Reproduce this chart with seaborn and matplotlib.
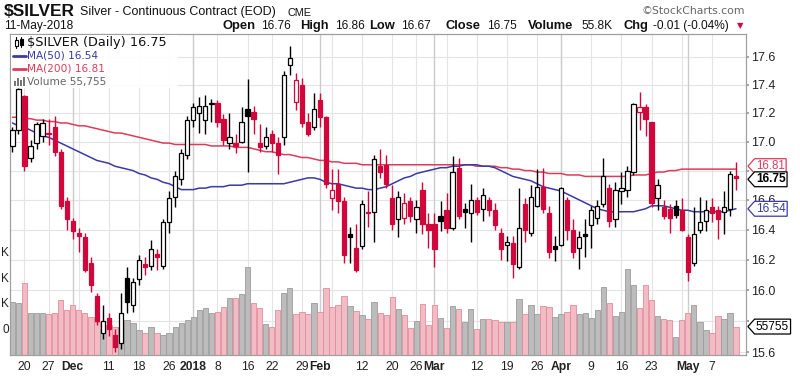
import numpy as np
import pandas as pd
import matplotlib
matplotlib.use("Agg")
import matplotlib.pyplot as plt
import matplotlib.transforms as mtransforms
from matplotlib.patches import Rectangle
from matplotlib.path import Path
from matplotlib.ticker import NullLocator, NullFormatter
import seaborn as sns

# trading calendar shown on the chart
first_day = "2017-11-16"
last_day = "2018-05-11"
holidays = ["2017-11-23", "2017-12-25", "2018-01-01", "2018-01-15", "2018-02-19", "2018-03-30"]

opens = [16.97, 17.08, 17.32, 16.89, 16.99, 17.04, 17.06, 17.10, 16.93, 16.59,
         16.46, 16.38, 16.35, 16.18, 15.96, 15.72, 15.82, 15.71, 15.66, 16.08,
         15.90, 16.07, 16.17, 16.16, 16.24, 16.16, 16.45, 16.62, 16.74, 16.91,
         17.15, 17.20, 17.15, 17.26, 17.27, 17.16, 16.99, 16.99, 17.00, 17.23,
         17.21, 16.99, 16.97, 17.05, 16.99, 17.03, 17.54, 17.28, 17.40, 17.14,
         17.10, 17.29, 17.17, 16.61, 16.71, 16.59, 16.37, 16.28, 16.29, 16.51,
         16.52, 16.83, 16.84, 16.61, 16.47, 16.48, 16.59, 16.47, 16.67, 16.44,
         16.44, 16.49, 16.53, 16.41, 16.82, 16.54, 16.51, 16.60, 16.54, 16.60,
         16.53, 16.38, 16.30, 16.31, 16.15, 16.57, 16.38, 16.56, 16.69, 16.51,
         16.29, 16.30, 16.60, 16.40, 16.28, 16.37, 16.43, 16.48, 16.57, 16.68,
         16.47, 16.66, 16.67, 16.79, 17.21, 17.24, 17.14, 16.61, 16.55, 16.54,
         16.56, 16.53, 16.35, 16.18, 16.40, 16.46, 16.55, 16.53, 16.52, 16.54,
         16.76]
highs = [17.10, 17.38, 17.33, 17.01, 17.14, 17.16, 17.16, 17.18, 16.95, 16.62,
         16.48, 16.41, 16.38, 16.22, 15.98, 15.90, 15.85, 15.75, 15.98, 16.15,
         16.08, 16.23, 16.22, 16.33, 16.27, 16.47, 16.66, 16.80, 16.95, 17.18,
         17.27, 17.31, 17.33, 17.30, 17.29, 17.19, 17.20, 17.05, 17.24, 17.44,
         17.25, 17.12, 17.10, 17.08, 17.03, 17.50, 17.68, 17.48, 17.45, 17.20,
         17.34, 17.34, 17.18, 16.81, 16.81, 16.62, 16.42, 16.44, 16.60, 16.66,
         16.91, 16.95, 16.91, 16.70, 16.66, 16.65, 16.62, 16.60, 16.72, 16.51,
         16.51, 16.59, 16.65, 16.90, 16.89, 16.58, 16.71, 16.62, 16.68, 16.62,
         16.58, 16.41, 16.36, 16.36, 16.68, 16.61, 16.70, 16.81, 16.82, 16.56,
         16.36, 16.69, 16.62, 16.47, 16.39, 16.47, 16.56, 16.60, 16.89, 16.71,
         16.72, 16.79, 16.83, 17.27, 17.35, 17.26, 17.14, 16.74, 16.60, 16.57,
         16.60, 16.61, 16.37, 16.55, 16.62, 16.60, 16.61, 16.56, 16.66, 16.80,
         16.86]
lows = [16.93, 17.05, 16.80, 16.86, 16.95, 17.00, 16.98, 16.90, 16.54, 16.40,
        16.34, 16.25, 16.12, 15.99, 15.77, 15.68, 15.70, 15.60, 15.62, 15.85,
        15.86, 16.03, 16.10, 16.13, 16.13, 16.14, 16.38, 16.55, 16.70, 16.88,
        17.10, 17.06, 17.05, 17.14, 17.10, 16.98, 16.95, 16.92, 16.99, 16.79,
        17.05, 16.93, 16.95, 16.93, 16.78, 16.98, 17.47, 17.22, 17.10, 17.04,
        17.08, 17.10, 16.68, 16.53, 16.51, 16.18, 16.18, 16.12, 16.27, 16.42,
        16.32, 16.75, 16.68, 16.40, 16.35, 16.44, 16.45, 16.38, 16.37, 16.28,
        16.15, 16.39, 16.38, 16.40, 16.47, 16.41, 16.32, 16.50, 16.46, 16.49,
        16.40, 16.20, 16.19, 16.08, 16.14, 16.32, 16.36, 16.55, 16.51, 16.21,
        16.19, 16.29, 16.33, 16.21, 16.14, 16.22, 16.28, 16.44, 16.55, 16.42,
        16.42, 16.57, 16.62, 16.77, 17.08, 17.04, 16.55, 16.53, 16.47, 16.38,
        16.48, 16.39, 16.06, 16.16, 16.38, 16.39, 16.45, 16.34, 16.37, 16.49,
        16.67]
closes = [17.08, 17.37, 16.83, 16.97, 17.12, 17.13, 17.05, 16.93, 16.56, 16.47,
          16.39, 16.36, 16.13, 16.03, 15.80, 15.80, 15.75, 15.63, 15.85, 15.92,
          16.05, 16.20, 16.15, 16.27, 16.22, 16.45, 16.61, 16.76, 16.92, 17.15,
          17.24, 17.25, 17.25, 17.27, 17.14, 17.01, 17.03, 16.97, 17.14, 17.18,
          17.16, 16.96, 17.03, 16.99, 16.91, 17.47, 17.59, 17.43, 17.13, 17.05,
          17.23, 17.17, 16.71, 16.67, 16.59, 16.23, 16.35, 16.13, 16.57, 16.52,
          16.88, 16.79, 16.71, 16.44, 16.62, 16.58, 16.49, 16.55, 16.44, 16.40,
          16.27, 16.46, 16.41, 16.79, 16.49, 16.52, 16.60, 16.52, 16.63, 16.53,
          16.43, 16.27, 16.32, 16.17, 16.41, 16.40, 16.62, 16.69, 16.54, 16.25,
          16.27, 16.68, 16.40, 16.25, 16.35, 16.36, 16.53, 16.56, 16.76, 16.46,
          16.67, 16.68, 16.80, 17.26, 17.24, 17.16, 16.58, 16.70, 16.49, 16.48,
          16.50, 16.40, 16.12, 16.37, 16.45, 16.53, 16.51, 16.47, 16.55, 16.78,
          16.75]
volume_k = [104, 102, 141, 82, 82, 82, 80, 82, 108, 88,
            98, 88, 82, 75, 65, 51, 59, 55, 55, 69,
            63, 49, 43, 55, 43, 39, 43, 55, 63, 69,
            75, 88, 92, 82, 84, 94, 112, 112, 120, 172,
            102, 92, 61, 55, 88, 122, 131, 80, 84, 80,
            102, 84, 131, 94, 98, 116, 96, 86, 78, 71,
            104, 82, 78, 114, 90, 78, 53, 67, 100, 59,
            98, 73, 53, 96, 90, 65, 90, 51, 71, 71,
            69, 65, 65, 65, 110, 80, 98, 80, 96, 94,
            75, 80, 84, 98, 80, 82, 73, 88, 133, 102,
            76, 84, 169, 137, 92, 137, 108, 76, 71, 69,
            35, 69, 82, 98, 65, 49, 43, 76, 71, 82,
            55.755]
ma50 = [17.13, 17.11, 17.10, 17.08, 17.06, 17.04, 17.03, 17.01, 16.99, 16.97,
        16.95, 16.93, 16.91, 16.89, 16.87, 16.86, 16.85, 16.83, 16.82, 16.81,
        16.80, 16.78, 16.77, 16.75, 16.74, 16.72, 16.71, 16.69, 16.67, 16.67,
        16.67, 16.68, 16.68, 16.69, 16.69, 16.69, 16.70, 16.70, 16.70, 16.71,
        16.71, 16.71, 16.71, 16.71, 16.71, 16.71, 16.72, 16.73, 16.74, 16.75,
        16.75, 16.74, 16.72, 16.71, 16.71, 16.70, 16.69, 16.68, 16.68, 16.67,
        16.67, 16.68, 16.69, 16.71, 16.73, 16.75, 16.76, 16.78, 16.79, 16.80,
        16.81, 16.82, 16.82, 16.83, 16.83, 16.84, 16.84, 16.84, 16.83, 16.83,
        16.82, 16.80, 16.78, 16.76, 16.75, 16.74, 16.73, 16.71, 16.69, 16.68,
        16.67, 16.66, 16.64, 16.62, 16.60, 16.58, 16.56, 16.54, 16.53, 16.52,
        16.52, 16.52, 16.52, 16.52, 16.53, 16.54, 16.56, 16.56, 16.56, 16.55,
        16.54, 16.53, 16.53, 16.52, 16.52, 16.52, 16.52, 16.52, 16.52, 16.53,
        16.54]
ma200 = [17.17, 17.17, 17.16, 17.16, 17.15, 17.15, 17.14, 17.14, 17.13, 17.13,
         17.12, 17.11, 17.11, 17.10, 17.09, 17.08, 17.07, 17.06, 17.06, 17.05,
         17.04, 17.03, 17.02, 17.01, 17.00, 16.99, 16.99, 16.98, 16.98, 16.98,
         16.98, 16.98, 16.98, 16.97, 16.97, 16.97, 16.97, 16.96, 16.96, 16.96,
         16.95, 16.94, 16.93, 16.93, 16.92, 16.91, 16.91, 16.90, 16.89, 16.89,
         16.88, 16.87, 16.87, 16.86, 16.86, 16.85, 16.85, 16.85, 16.84, 16.84,
         16.84, 16.84, 16.84, 16.84, 16.84, 16.84, 16.84, 16.84, 16.84, 16.84,
         16.84, 16.84, 16.84, 16.84, 16.84, 16.84, 16.84, 16.83, 16.83, 16.83,
         16.83, 16.82, 16.82, 16.81, 16.81, 16.80, 16.80, 16.79, 16.79, 16.78,
         16.78, 16.78, 16.77, 16.77, 16.77, 16.76, 16.76, 16.76, 16.76, 16.76,
         16.76, 16.76, 16.76, 16.77, 16.77, 16.77, 16.78, 16.79, 16.79, 16.80,
         16.80, 16.81, 16.81, 16.81, 16.81, 16.81, 16.81, 16.81, 16.81, 16.81,
         16.81]

tick_dates = ["2017-11-20", "2017-11-27", "2017-12-01", "2017-12-11", "2017-12-18",
              "2017-12-26", "2018-01-02", "2018-01-08", "2018-01-16", "2018-01-22",
              "2018-01-29", "2018-02-01", "2018-02-12", "2018-02-20", "2018-02-26",
              "2018-03-01", "2018-03-12", "2018-03-19", "2018-03-26", "2018-04-02",
              "2018-04-09", "2018-04-16", "2018-04-23", "2018-05-01", "2018-05-07"]
tick_labels = ["20", "27", "Dec", "11", "18", "26", "2018", "8", "16", "22", "29", "Feb",
               "12", "20", "26", "Mar", "12", "19", "26", "Apr", "9", "16", "23", "May", "7"]
bold_labels = ["Dec", "2018", "Feb", "Mar", "Apr", "May"]
price_ticks = [15.6, 15.8, 16.0, 16.2, 16.4, 16.6, 16.8, 17.0, 17.2, 17.4, 17.6]
# 15.8 and 16.8 sit under the value flags in the original, so no text there
price_tick_labels = ["15.6", "", "16.0", "16.2", "16.4", "16.6", "", "17.0", "17.2", "17.4", "17.6"]
# the volume scale is cut by the left edge: only the last character shows
vol_ticks = [200, 150, 100, 50]
vol_tick_labels = ["K", "K", "K", "0"]

RED = "#d1063a"
BLUE = "#3a3aa6"
MA_RED = "#dc3c5c"
GRID = "#e4e4e4"
MONTH_GRID = "#cccccc"

days = pd.bdate_range(first_day, last_day, freq="C", holidays=holidays)
df = pd.DataFrame({"date": days, "open": opens, "high": highs, "low": lows,
                   "close": closes, "volume": volume_k, "ma50": ma50, "ma200": ma200})
df["x"] = np.arange(len(df))
prev_close = df["close"].shift(1).fillna(df["open"])
df["up"] = df["close"] >= prev_close
df["edge"] = np.where(df["up"], "black", RED)
df["fill"] = np.where(df["close"] < df["open"], df["edge"], "white")
df["body_lo"] = df[["open", "close"]].min(axis=1)
df["body_h"] = (df["close"] - df["open"]).abs().clip(lower=0.006)

pos = {d: i for i, d in enumerate(df["date"])}
tick_pos = [pos[pd.Timestamp(d)] for d in tick_dates]
week = df["date"].dt.isocalendar().week
week_start = df["x"][(week != week.shift(1)) & (df["x"] > 0)]
month_start = df["x"][(df["date"].dt.month != df["date"].dt.month.shift(1)) & (df["x"] > 0)]

sns.set_theme(style="white")
plt.rcParams["font.family"] = ["Liberation Sans", "DejaVu Sans"]

W, H = 800, 379
fig = plt.figure(figsize=(W / 100, H / 100), dpi=100)
fig.patch.set_facecolor("white")


def rect_px(l, t, r, b):
    return [l / W, 1 - b / H, (r - l) / W, (b - t) / H]


L, T, R, B = 10, 34, 746, 355
rect = rect_px(L, T, R, B)
ax_bg = fig.add_axes(rect)
ax_vol = fig.add_axes(rect, sharex=ax_bg)
ax = fig.add_axes(rect, sharex=ax_bg, sharey=ax_bg)

# background axis: price scale, ticks and grid
ax_bg.set_yscale("log")
ax_bg.set_ylim(15.581, 17.764)
ax_bg.set_xlim(-0.4, 121.66)
ax_bg.yaxis.tick_right()
ax_bg.set_yticks(price_ticks)
ax_bg.set_yticklabels(price_tick_labels)
ax_bg.yaxis.set_minor_locator(NullLocator())
ax_bg.yaxis.set_minor_formatter(NullFormatter())
ax_bg.tick_params(axis="y", length=2, pad=2, color="#999999", labelsize=9, labelcolor="#222222")
ax_bg.set_xticks(tick_pos)
ax_bg.set_xticklabels(tick_labels)
for t in ax_bg.get_xticklabels():
    if t.get_text() in bold_labels:
        t.set_fontweight("bold")
ax_bg.tick_params(axis="x", length=0, pad=4, labelsize=8.7, labelcolor="#222222")
for p in price_ticks:
    ax_bg.axhline(p, color=GRID, lw=0.8, zorder=0)
for x in week_start:
    ax_bg.axvline(x, color=GRID, lw=0.8, zorder=0)
for x in month_start:
    ax_bg.axvline(x, color=MONTH_GRID, lw=1.0, zorder=0)
for s in ax_bg.spines.values():
    s.set_visible(False)

# volume overlay
ax_vol.set_ylim(0, 629.5)
ax_vol.bar(df["x"], df["volume"], width=0.9,
           color=np.where(df["up"], "#bcbcbc", "#f2bcc4"),
           edgecolor=np.where(df["up"], "#9c9c9c", "#e48b9b"), linewidth=0.6)
ax_vol.patch.set_visible(False)
ax_vol.set_axis_off()
vtrans = mtransforms.blended_transform_factory(ax_vol.transAxes, ax_vol.transData)
for v, lab in zip(vol_ticks, vol_tick_labels):
    ax_vol.text(-0.0015, v, lab, transform=vtrans, ha="right", va="center",
                fontsize=8.5, color="#222222", clip_on=False)

# price layer
ax.patch.set_visible(False)
ax.tick_params(which="both", left=False, right=False, bottom=False, top=False,
               labelleft=False, labelright=False, labelbottom=False)
for s in ax.spines.values():
    s.set_color("#a0a0a0")
    s.set_linewidth(0.9)
sns.lineplot(x=df["x"], y=df["ma200"], ax=ax, color=MA_RED, lw=1.1, legend=False, zorder=2)
sns.lineplot(x=df["x"], y=df["ma50"], ax=ax, color=BLUE, lw=1.1, legend=False, zorder=2)
ax.vlines(df["x"], df["low"], df["high"], colors=df["edge"], lw=1.0, zorder=3)
ax.bar(df["x"], df["body_h"], bottom=df["body_lo"], width=0.7, color=df["fill"],
       edgecolor=df["edge"], linewidth=0.9, zorder=4)
ax.set_xlabel("")
ax.set_ylabel("")


def axx(px):
    return (px - L) / (R - L)


def axy(py):
    return (B - py) / (B - T)


# legend block
ax.add_patch(Rectangle((axx(11), axy(88)), axx(178) - axx(11), axy(35) - axy(88),
                       transform=ax.transAxes, fc="white", ec="none", alpha=0.9, zorder=5))
ax.plot([axx(16), axx(16)], [axy(37), axy(48)], transform=ax.transAxes, color="black", lw=0.8, zorder=6)
ax.add_patch(Rectangle((axx(14.5), axy(46)), axx(3) - axx(0), axy(0) - axy(6),
                       transform=ax.transAxes, fc="white", ec="black", lw=0.8, zorder=7))
ax.plot([axx(21), axx(21)], [axy(37), axy(47)], transform=ax.transAxes, color="black", lw=0.8, zorder=6)
ax.add_patch(Rectangle((axx(19.5), axy(45)), axx(3) - axx(0), axy(0) - axy(6),
                       transform=ax.transAxes, fc="black", ec="black", lw=0.8, zorder=7))
ax.text(axx(27), axy(42.5), "$SILVER (Daily) 16.75", transform=ax.transAxes,
        family="DejaVu Sans", fontsize=9.3, color="#111111", va="center", zorder=7)
ax.plot([axx(13), axx(26)], [axy(55.5), axy(55.5)], transform=ax.transAxes, color=BLUE, lw=2, zorder=6)
ax.text(axx(27), axy(55.5), "MA(50) 16.54", transform=ax.transAxes,
        family="DejaVu Sans", fontsize=7.6, color=BLUE, va="center", zorder=7)
ax.plot([axx(13), axx(26)], [axy(68.5), axy(68.5)], transform=ax.transAxes, color=MA_RED, lw=2, zorder=6)
ax.text(axx(27), axy(68.5), "MA(200) 16.81", transform=ax.transAxes,
        family="DejaVu Sans", fontsize=7.6, color=MA_RED, va="center", zorder=7)
for bx, bh in zip([14, 17, 20, 23], [5, 8, 6, 9]):
    ax.add_patch(Rectangle((axx(bx), axy(86)), axx(2) - axx(0), axy(0) - axy(bh),
                           transform=ax.transAxes, fc="#777777", ec="none", zorder=7))
ax.text(axx(27), axy(81.5), "Volume 55,755", transform=ax.transAxes,
        family="DejaVu Sans", fontsize=7.6, color="#666666", va="center", zorder=7)


# value flags on the right edge: box with a pointed left end
def flag_box(x0, y0, width, height, mutation_size):
    pad = 0.12 * mutation_size
    x0, y0 = x0 - pad, y0 - pad
    w, h = width + 2 * pad, height + 2 * pad
    tip = 0.45 * h
    verts = [(x0 - tip, y0 + h / 2), (x0, y0), (x0 + w, y0), (x0 + w, y0 + h),
             (x0, y0 + h), (x0 - tip, y0 + h / 2)]
    codes = [Path.MOVETO] + [Path.LINETO] * 4 + [Path.CLOSEPOLY]
    return Path(verts, codes)


ptrans = mtransforms.blended_transform_factory(ax.transAxes, ax.transData)
flag_x = 1 + (756 - R) / (R - L)
# the two close flags are pushed apart a little, as on the original
flags = [(16.81, "16.81", MA_RED, "normal", 8.3, 2.2), (16.75, "16.75", "black", "bold", 8.6, -1.0),
         (16.54, "16.54", BLUE, "normal", 8.6, 0.0)]
for val, lab, col, wt, fs, dy in flags:
    ax.annotate(lab, xy=(flag_x, val), xycoords=ptrans, xytext=(0, dy), textcoords="offset points",
                ha="left", va="center", fontsize=fs, color=col, fontweight=wt,
                annotation_clip=False, zorder=8,
                bbox=dict(boxstyle=flag_box, fc="white", ec=col, lw=0.9))
ax_vol.text(flag_x, 55.755, "55755", transform=vtrans, ha="left", va="center", fontsize=8.6,
            color="black", clip_on=False, zorder=8,
            bbox=dict(boxstyle=flag_box, fc="white", ec="black", lw=0.9))

# header


def fx(px):
    return px / W


def fy(py):
    return 1 - py / H


fig.text(fx(4), fy(12), "$SILVER", fontsize=12.5, fontweight="bold", va="center", color="#111111")
fig.text(fx(80), fy(12.5), "Silver - Continuous Contract (EOD)", fontsize=9, va="center", color="#111111")
fig.text(fx(287), fy(13), "CME", fontsize=7.8, va="center", color="#111111")
fig.text(fx(745), fy(11), "\u00a9StockCharts.com", family="DejaVu Sans", fontsize=7.8,
         ha="right", va="center", color="#666666")
fig.text(fx(4), fy(26), "11-May-2018", fontsize=8.6, va="center", color="#111111")
header = [(222, "Open", "bold"), (261, "16.76", "normal"), (300, "High", "bold"),
          (335, "16.86", "normal"), (369, "Low", "bold"), (401, "16.67", "normal"),
          (445, "Close", "bold"), (487, "16.75", "normal"), (528, "Volume", "bold"),
          (582, "55.8K", "normal"), (623, "Chg", "bold"), (653, "-0.01 (-0.04%)", "normal")]
for xp, txt, wt in header:
    fig.text(fx(xp), fy(26), txt, fontsize=9.3 if wt == "bold" else 8.6,
             fontweight=wt, va="center", color="#111111")
fig.text(fx(737), fy(26), "\u25bc", fontsize=6, va="center", color=RED,
         family=["DejaVu Sans"])

fig.savefig("out.png", dpi=100)
